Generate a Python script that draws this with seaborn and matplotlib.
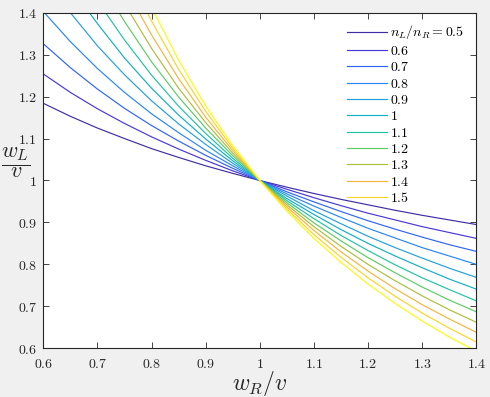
import matplotlib
matplotlib.use("Agg")
import matplotlib.pyplot as plt
import seaborn as sns
import pandas as pd
from matplotlib.lines import Line2D

# ---------------- data ----------------
wr_grid = [0.60, 0.65, 0.70, 0.75, 0.80, 0.85, 0.90, 0.95, 1.00,
           1.05, 1.10, 1.15, 1.20, 1.25, 1.30, 1.35, 1.40]
ratios = ["0.5", "0.6", "0.7", "0.8", "0.9", "1", "1.1", "1.2", "1.3", "1.4", "1.5", "1.6"]
legend_labels = [r"$n_L/n_R = 0.5$", "$0.6$", "$0.7$", "$0.8$", "$0.9$", "$1$",
                 "$1.1$", "$1.2$", "$1.3$", "$1.4$", "$1.5$"]
# w_R/v where each curve leaves the top edge (w_L/v = 1.4)
top_exit_wr = [None, None, None, 0.602, 0.650, 0.685, 0.715, 0.740, 0.760, 0.777, 0.792, 0.805]

wl_05 = [1.184, 1.153, 1.125, 1.100, 1.076, 1.055, 1.035, 1.017, 1.000, 0.984, 0.969, 0.955, 0.942, 0.929, 0.917, 0.906, 0.895]
wl_06 = [1.254, 1.210, 1.171, 1.136, 1.104, 1.075, 1.048, 1.023, 1.000, 0.979, 0.959, 0.940, 0.922, 0.906, 0.890, 0.876, 0.862]
wl_07 = [1.326, 1.269, 1.218, 1.172, 1.131, 1.094, 1.060, 1.029, 1.000, 0.973, 0.949, 0.926, 0.904, 0.884, 0.865, 0.847, 0.831]
wl_08 = [None, 1.331, 1.267, 1.210, 1.159, 1.114, 1.072, 1.035, 1.000, 0.968, 0.939, 0.912, 0.886, 0.863, 0.840, 0.820, 0.800]
wl_09 = [None, None, 1.321, 1.252, 1.190, 1.135, 1.086, 1.041, 1.000, 0.963, 0.928, 0.897, 0.867, 0.840, 0.815, 0.791, 0.769]
wl_10 = [None, None, 1.374, 1.292, 1.220, 1.156, 1.099, 1.047, 1.000, 0.957, 0.919, 0.883, 0.850, 0.820, 0.792, 0.765, 0.741]
wl_11 = [None, None, None, 1.335, 1.251, 1.177, 1.112, 1.053, 1.000, 0.952, 0.909, 0.869, 0.833, 0.799, 0.768, 0.740, 0.713]
wl_12 = [None, None, None, 1.379, 1.283, 1.199, 1.125, 1.059, 1.000, 0.947, 0.899, 0.856, 0.816, 0.780, 0.746, 0.715, 0.687]
wl_13 = [None, None, None, None, 1.315, 1.220, 1.138, 1.065, 1.000, 0.942, 0.890, 0.843, 0.800, 0.761, 0.725, 0.692, 0.662]
wl_14 = [None, None, None, None, 1.347, 1.243, 1.151, 1.071, 1.000, 0.937, 0.881, 0.830, 0.784, 0.742, 0.704, 0.670, 0.638]
wl_15 = [None, None, None, None, 1.380, 1.265, 1.165, 1.077, 1.000, 0.932, 0.871, 0.817, 0.768, 0.724, 0.684, 0.648, 0.615]
wl_16 = [None, None, None, None, None, 1.287, 1.178, 1.083, 1.000, 0.927, 0.862, 0.805, 0.753, 0.707, 0.665, 0.627, 0.593]
wl_all = [wl_05, wl_06, wl_07, wl_08, wl_09, wl_10, wl_11, wl_12, wl_13, wl_14, wl_15, wl_16]

xticks = [0.6, 0.7, 0.8, 0.9, 1.0, 1.1, 1.2, 1.3, 1.4]
tick_labels = ["0.6", "0.7", "0.8", "0.9", "1", "1.1", "1.2", "1.3", "1.4"]

# ---------------- styling ----------------
colors = ["#3f2ea6", "#4838d8", "#3164f5", "#2a85f5", "#23a0da", "#12afc4",
          "#20c3a0", "#5dcb63", "#abbe3a", "#f4b43d", "#fad328", "#f9fb0e"]

plt.rcParams["mathtext.fontset"] = "cm"
plt.rcParams["font.family"] = ["DejaVu Sans"]

rows = []
for r, ex, wl in zip(ratios, top_exit_wr, wl_all):
    if ex is not None:
        rows.append((ex, 1.4, r))
    for x, y in zip(wr_grid, wl):
        if y is not None:
            rows.append((x, y, r))
df = pd.DataFrame(rows, columns=["wr", "wl", "ratio"])

fig = plt.figure(figsize=(4.9, 3.97), dpi=100, facecolor="#f0f0f0")
ax = fig.add_axes([0.0884, 0.1227, 0.8837, 0.8453])
ax.set_facecolor("white")

sns.lineplot(data=df, x="wr", y="wl", hue="ratio", hue_order=ratios,
             palette=dict(zip(ratios, colors)), estimator=None, sort=True,
             legend=False, linewidth=0.85, ax=ax)

ax.set_xlim(0.6, 1.4)
ax.set_ylim(0.6, 1.4)
ax.set_xticks(xticks)
ax.set_yticks(xticks)
ax.set_xticklabels(["$" + t + "$" for t in tick_labels])
ax.set_yticklabels(["$" + t + "$" for t in tick_labels])
ax.tick_params(direction="in", length=4, width=0.6, top=True, right=True,
               colors="#262626", labelsize=10)
ax.tick_params(axis="x", pad=6)
ax.tick_params(axis="y", pad=4.5)
for s in ax.spines.values():
    s.set_linewidth(0.8)
    s.set_color("#262626")

ax.set_xlabel(r"$w_R/v$", fontsize=17, color="#262626", va="center")
ax.xaxis.set_label_coords(0.5, -0.104)
ax.set_ylabel(r"$\dfrac{w_L}{v}$", fontsize=16, rotation=0, color="#262626",
              va="center", ha="center")
ax.yaxis.set_label_coords(-0.063, 0.553)

handles = [Line2D([], [], color=c, linewidth=0.85) for c in colors[:11]]
ax.legend(handles, legend_labels, loc="upper left", bbox_to_anchor=(0.7007, 0.968),
          frameon=False, fontsize=10, handlelength=2.88, handletextpad=0.25,
          labelspacing=0.17, borderpad=0, borderaxespad=0)

fig.savefig("out.png", dpi=100, facecolor=fig.get_facecolor())
